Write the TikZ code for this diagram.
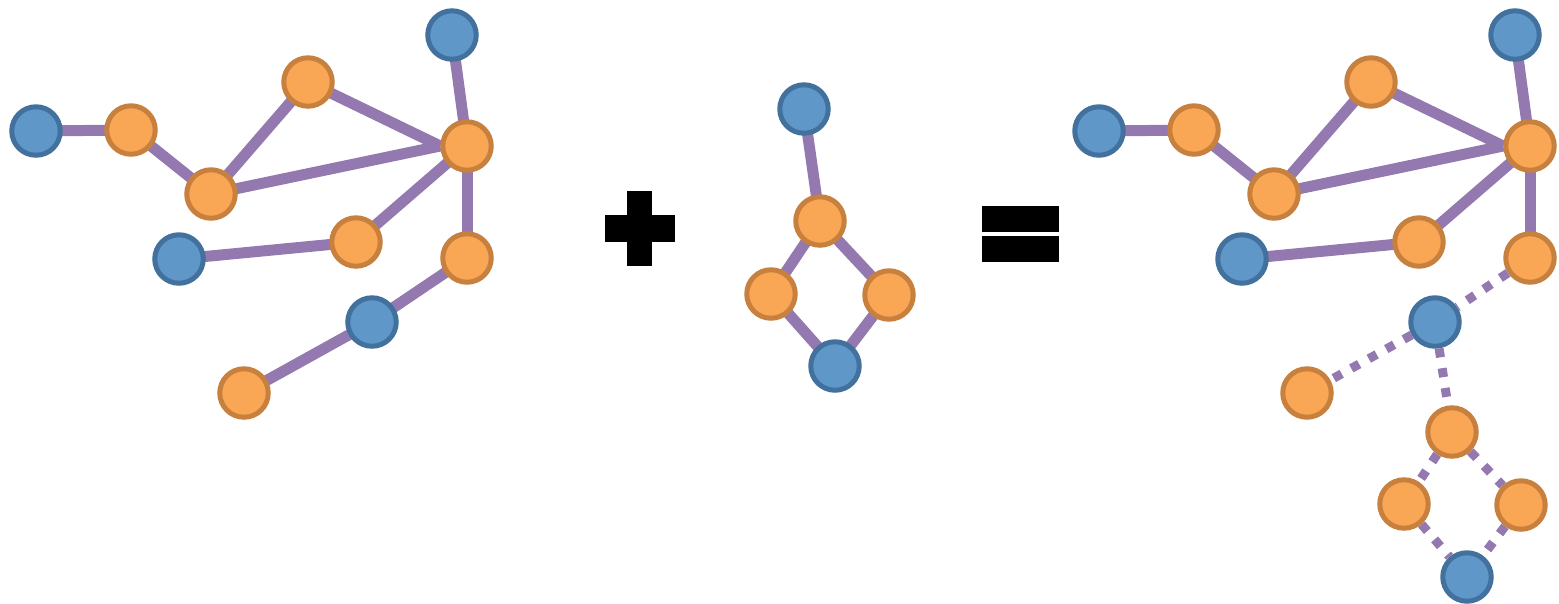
\documentclass[tikz,border=0pt]{standalone}
\usetikzlibrary{backgrounds}
\begin{document}
\begin{tikzpicture}[x=0.02cm,y=-0.02cm]
\definecolor{bfill}{HTML}{6097C9}
\definecolor{bdraw}{HTML}{41719C}
\definecolor{ofill}{HTML}{F9A655}
\definecolor{odraw}{HTML}{C7803D}
\definecolor{edgec}{HTML}{9479B1}
\tikzset{
 bnode/.style={circle,fill=bfill,draw=bdraw,line width=0.1cm,minimum size=0.97cm,inner sep=0pt},
 onode/.style={circle,fill=ofill,draw=odraw,line width=0.1cm,minimum size=0.97cm,inner sep=0pt},
 link/.style={draw=edgec,line width=0.22cm},
 dlink/.style={draw=edgec,line width=0.18cm,dash pattern=on 0.18cm off 0.22cm},
 sym/.style={fill=black,draw=none}
}
\useasboundingbox (0,0) rectangle (1559,603);
% left graph
\node[bnode] (lb1) at (36,131) {};
\node[onode] (lo1) at (131,130) {};
\node[onode] (lo2) at (211,194) {};
\node[onode] (lo3) at (308,82) {};
\node[bnode] (lb2) at (452,35) {};
\node[onode] (lo4) at (467,146) {};
\node[bnode] (lb3) at (179,259) {};
\node[onode] (lo5) at (356,242) {};
\node[onode] (lo6) at (467,258) {};
\node[bnode] (lb4) at (372,322) {};
\node[onode] (lo7) at (244,393) {};
\begin{scope}[on background layer]
\foreach \a/\b in {lb1/lo1,lo1/lo2,lo2/lo3,lb2/lo4,lo4/lo5,lo5/lb3,lo4/lo6,lo6/lb4,lb4/lo7}
  \draw[link] (\a.center) -- (\b.center);
\draw[link] (lo3.center) -- (lo4.west);
\draw[link] (lo2.center) -- (lo4.west);
\end{scope}
% plus
\fill[sym] (627,191) rectangle (652,266);
\fill[sym] (605,215) rectangle (675,241.5);
% middle graph
\node[bnode] (mb1) at (804,109) {};
\node[onode] (mo1) at (820,221) {};
\node[onode] (mo2) at (771,294) {};
\node[onode] (mo3) at (889,295) {};
\node[bnode] (mb2) at (835,366) {};
\begin{scope}[on background layer]
\foreach \a/\b in {mb1/mo1,mo1/mo2,mo1/mo3,mo2/mb2,mo3/mb2}
  \draw[link] (\a.center) -- (\b.center);
\end{scope}
% equals
\fill[sym] (982,206) rectangle (1058.5,231.5);
\fill[sym] (982,236) rectangle (1058.5,261.5);
% right graph
\node[bnode] (rb1) at (1099,131) {};
\node[onode] (ro1) at (1194,130) {};
\node[onode] (ro2) at (1274,194) {};
\node[onode] (ro3) at (1371,82) {};
\node[bnode] (rb2) at (1515,35) {};
\node[onode] (ro4) at (1530,146) {};
\node[bnode] (rb3) at (1242,259) {};
\node[onode] (ro5) at (1419,242) {};
\node[onode] (ro6) at (1530,258) {};
\node[bnode] (rb4) at (1435,322) {};
\node[onode] (ro7) at (1307,393) {};
\node[onode] (ro8) at (1452,432) {};
\node[onode] (ro9) at (1404,504) {};
\node[onode] (ro10) at (1521,505) {};
\node[bnode] (rb5) at (1467,577) {};
\begin{scope}[on background layer]
\foreach \a/\b in {rb1/ro1,ro1/ro2,ro2/ro3,rb2/ro4,ro4/ro5,ro5/rb3,ro4/ro6}
  \draw[link] (\a.center) -- (\b.center);
\draw[link] (ro3.center) -- (ro4.west);
\draw[link] (ro2.center) -- (ro4.west);
\end{scope}
\foreach \a/\b in {ro6/rb4,rb4/ro7,rb4/ro8,ro8/ro9,ro8/ro10,ro9/rb5,ro10/rb5}
  \draw[dlink] (\a) -- (\b);
\end{tikzpicture}
\end{document}
